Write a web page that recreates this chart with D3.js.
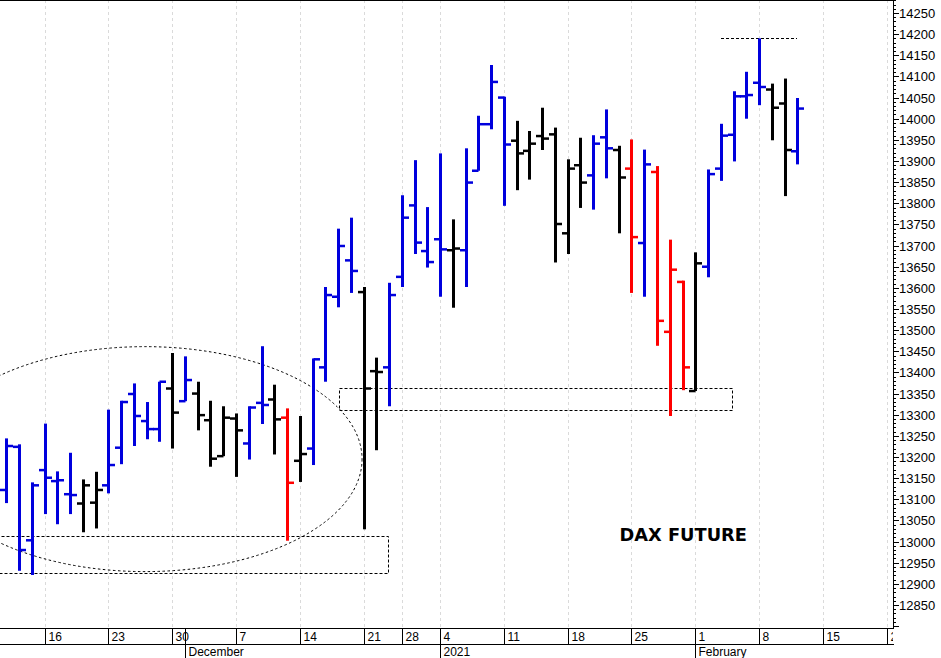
<!DOCTYPE html>
<html><head><meta charset="utf-8">
<script src="https://cdn.jsdelivr.net/npm/d3@7"></script>
<style>html,body{margin:0;padding:0;background:#fff;} svg{display:block;}</style>
</head><body><svg id="c" width="941" height="658"></svg>
<script>
// ---------- DATA ----------
const dates = [
"2020-11-11","2020-11-12","2020-11-13",
"2020-11-16","2020-11-17","2020-11-18","2020-11-19","2020-11-20",
"2020-11-23","2020-11-24","2020-11-25","2020-11-26","2020-11-27",
"2020-11-30","2020-12-01","2020-12-02","2020-12-03","2020-12-04",
"2020-12-07","2020-12-08","2020-12-09","2020-12-10","2020-12-11",
"2020-12-14","2020-12-15","2020-12-16","2020-12-17","2020-12-18",
"2020-12-21","2020-12-22","2020-12-23",
"2020-12-28","2020-12-29","2020-12-30",
"2021-01-04","2021-01-05","2021-01-06","2021-01-07","2021-01-08",
"2021-01-11","2021-01-12","2021-01-13","2021-01-14","2021-01-15",
"2021-01-18","2021-01-19","2021-01-20","2021-01-21","2021-01-22",
"2021-01-25","2021-01-26","2021-01-27","2021-01-28","2021-01-29",
"2021-02-01","2021-02-02","2021-02-03","2021-02-04","2021-02-05",
"2021-02-08","2021-02-09","2021-02-10","2021-02-11"];
const futureSessions = ["2021-02-12","2021-02-15","2021-02-16","2021-02-17","2021-02-18","2021-02-19","2021-02-22"];

const open = [13122,13224,13003,
13169,13143,13112,13090,13092, 13133,13222,13349,13285,13266, 13362,13332,13350,13287,13202,
13291,13232,13328,13336,13293, 13191,13220,13412,13579,13665, 13590,13403,13412, 13626,13795,13687,
13715,13689,13689,13877,13987, 14050,13948,13924,13959,13963, 13729,13890,13866,13956,13926,
13882,13706,13874,13496,13614, 13356,13650,13882,13962,14053, 14085,14069,14036,13923];
const high = [13244,13230,13140,
13279,13166,13210,13147,13165, 13312,13333,13374,13330,13378, 13446,13438,13378,13333,13320,
13303,13320,13462,13371,13315, 13297,13433,13602,13740,13766, 13602,13435,13612, 13819,13902,13791,
13918,13762,13930,14007,14127, 14052,13995,13971,14026,13979, 13904,13955,13961,14022,13936,
13951,13927,13888,13714,13617, 13684,13880,13988,14065,14111, 14190,14083,14095,14049];
const low = [13091,12931,12921,
13065,13041,13065,13022,13031, 13114,13183,13226,13242,13236, 13220,13332,13263,13177,13202,
13153,13194,13278,13206,13002, 13141,13181,13378,13554,13588, 13029,13216,13320, 13602,13680,13648,
13579,13553,13602,13877,13975, 13794,13831,13856,13926,13660, 13680,13789,13785,13859,13729,
13588,13579,13463,13297,13358, 13356,13625,13853,13899,14000, 14032,13949,13817,13892];
const close = [13226,12980,13133,
13151,13145,13110,13133,13122, 13181,13330,13297,13266,13378, 13305,13382,13299,13196,13293,
13263,13317,13323,13289,13139, 13207,13431,13583,13699,13640, 13362,13401,13583, 13766,13707,13661,
13691,13693,13849,13987,14087, 13939,13918,13941,13953,13751, 13882,13849,13941,13930,13861,
13720,13892,13522,13643,13412, 13658,13869,13960,14053,14056, 14075,14026,13926,14024];
// bar signal: u = up (blue), n = neutral (black), d = down (red)
const signal = ["u","u","u",
"u","u","u","n","n", "u","u","u","u","u", "n","u","n","n","n",
"n","u","u","n","d", "n","u","u","u","u", "n","n","u", "u","u","u",
"u","n","u","u","u", "u","n","n","n","n", "n","n","u","u","n",
"d","u","d","d","d", "n","u","u","u","u", "u","n","n","u"];

const weekTicks = ["2020-11-16","2020-11-23","2020-11-30","2020-12-07","2020-12-14","2020-12-21","2020-12-28",
"2021-01-04","2021-01-11","2021-01-18","2021-01-25","2021-02-01","2021-02-08","2021-02-15","2021-02-22"];
const weekLabels = ["16","23","30","7","14","21","28","4","11","18","25","1","8","15","22"];
const monthStarts = ["2020-12-01","2021-01-04","2021-02-01"];
const monthLabels = ["December","2021","February"];
const yTickValues = d3.range(12850, 14251, 50);
const yMinorValues = d3.range(12810, 14281, 10).filter(v => v % 50 !== 0);

const title = "DAX FUTURE";

// ---------- LAYOUT ----------
const plotR = 893, plotB = 628;
const colorOf = {u:"#0000dd", n:"#000000", d:"#ff0000"};
const sessions = dates.concat(futureSessions);
const pos = new Map(sessions.map((d,i)=>[d,i]));
const x = d3.scaleLinear().domain([-0.5, sessions.length-0.5]).range([0, plotR]);
const xr = x.copy().interpolate(d3.interpolateRound);
const y = d3.scaleLinear().domain([12850, 14250]).range([605, 13]);
const yr = y.copy().interpolate(d3.interpolateRound);

const svg = d3.select("#c");
svg.append("rect").attr("width",941).attr("height",658).attr("fill","#fff");
const defs = svg.append("defs");
defs.append("clipPath").attr("id","clip").append("rect").attr("x",0).attr("y",0).attr("width",plotR).attr("height",plotB);
defs.append("clipPath").attr("id","clipx").append("rect").attr("x",0).attr("y",plotB).attr("width",plotR).attr("height",40);

// gridlines
const grid = svg.append("g").attr("clip-path","url(#clip)");
grid.selectAll("line").data(weekTicks).join("line")
  .attr("x1",d=>xr(pos.get(d))+0.5).attr("x2",d=>xr(pos.get(d))+0.5)
  .attr("y1",0).attr("y2",plotB)
  .attr("stroke","#dadada").attr("stroke-width",1).attr("stroke-dasharray","3,3");

// annotations (in data coordinates)
const ann = svg.append("g").attr("clip-path","url(#clip)").attr("fill","none").attr("stroke","#000").attr("stroke-width",1);
const ell = {x0:-6.15, x1:27.88, v0:12929, v1:13461};
ann.append("ellipse")
  .attr("cx",(x(ell.x0)+x(ell.x1))/2).attr("cy",(y(ell.v0)+y(ell.v1))/2)
  .attr("rx",(x(ell.x1)-x(ell.x0))/2).attr("ry",(y(ell.v0)-y(ell.v1))/2)
  .attr("stroke-dasharray","2.5,2.5");
const boxes = [{x0:-2, x1:29.9, v0:12925, v1:13014},{x0:26.05, x1:56.9, v0:13311, v1:13362}];
ann.selectAll("rect.box").data(boxes).join("rect").attr("class","box")
  .attr("x",d=>xr(d.x0)+0.5).attr("y",d=>yr(d.v1)+0.5)
  .attr("width",d=>xr(d.x1)-xr(d.x0)).attr("height",d=>yr(d.v0)-yr(d.v1))
  .attr("stroke-dasharray","3,2");
const hiLine = {x0:56, x1:62, v:14190};
ann.append("line").attr("x1",xr(hiLine.x0)).attr("x2",xr(hiLine.x1))
  .attr("y1",yr(hiLine.v)+0.5).attr("y2",yr(hiLine.v)+0.5).attr("stroke-dasharray","3,2");

// bars
const bars = dates.map((d,i)=>({p:pos.get(d), o:open[i], h:high[i], l:low[i], c:close[i], s:signal[i]}));
const bg = svg.append("g").attr("clip-path","url(#clip)");
const bar = bg.selectAll("g").data(bars).join("g").attr("stroke",d=>colorOf[d.s]);
bar.append("line").attr("x1",d=>xr(d.p)+0.5).attr("x2",d=>xr(d.p)+0.5)
  .attr("y1",d=>y(d.h)).attr("y2",d=>y(d.l)).attr("stroke-width",3);
bar.append("line").attr("x1",d=>xr(d.p)-6).attr("x2",d=>xr(d.p)+0.5)
  .attr("y1",d=>y(d.o)).attr("y2",d=>y(d.o)).attr("stroke-width",2.5);
bar.append("line").attr("x1",d=>xr(d.p)+0.5).attr("x2",d=>xr(d.p)+7)
  .attr("y1",d=>y(d.c)).attr("y2",d=>y(d.c)).attr("stroke-width",2.5);

// title text
svg.append("text").attr("x",x(53.06)).attr("y",y(13001)).attr("text-anchor","middle")
  .attr("font-family","'DejaVu Sans', Verdana, sans-serif").attr("font-weight","bold").attr("font-size","17.8px")
  .attr("fill","#000").text(title);

// frame
const frame = svg.append("g").attr("stroke","#000").attr("stroke-width",1);
frame.append("line").attr("x1",0).attr("x2",plotR).attr("y1",0.5).attr("y2",0.5);
frame.append("line").attr("x1",plotR+0.5).attr("x2",plotR+0.5).attr("y1",0).attr("y2",plotB+1);
frame.append("line").attr("x1",0).attr("x2",plotR+1).attr("y1",plotB+0.5).attr("y2",plotB+0.5);
frame.append("line").attr("x1",0).attr("x2",plotR+1).attr("y1",plotB+16.5).attr("y2",plotB+16.5);

// right axis
const yAx = svg.append("g").attr("transform",`translate(${plotR},0)`)
  .call(d3.axisRight(yr).tickValues(yTickValues).tickSize(6).tickPadding(0).tickFormat(d3.format("d")));
yAx.select(".domain").remove();
yAx.selectAll("text").attr("font-family","'Liberation Sans', Arial, sans-serif").attr("font-size","13px").attr("fill","#000");
const yMin = svg.append("g").attr("transform",`translate(${plotR},0)`)
  .call(d3.axisRight(yr).tickValues(yMinorValues).tickSize(3).tickFormat(""));
yMin.select(".domain").remove();
svg.append("g").attr("transform",`translate(${plotR},0)`)
  .call(d3.axisRight(yr).tickValues([12800, 14250+50]).tickSize(6).tickFormat("")).select(".domain").remove();

// bottom axis
const xg = svg.append("g").attr("clip-path","url(#clipx)");
const xAx = xg.append("g").attr("transform",`translate(0,${plotB})`)
  .call(d3.axisBottom(xr).tickValues(weekTicks.map(d=>pos.get(d))).tickSize(16)
    .tickFormat((d,i)=>weekLabels[i]));
xAx.select(".domain").remove();
xAx.selectAll("text").attr("text-anchor","start").attr("x",3).attr("y",13).attr("dy",null)
  .attr("font-family","'Liberation Sans', Arial, sans-serif").attr("font-size","12px").attr("fill","#000");
const mAx = xg.append("g").attr("transform",`translate(0,${plotB})`)
  .call(d3.axisBottom(xr).tickValues(monthStarts.map(d=>pos.get(d))).tickSize(30)
    .tickFormat((d,i)=>monthLabels[i]));
mAx.select(".domain").remove();
mAx.selectAll("text").attr("text-anchor","start").attr("x",3).attr("y",28).attr("dy",null)
  .attr("font-family","'Liberation Sans', Arial, sans-serif").attr("font-size","12px").attr("fill","#000");
</script>
</body></html>
